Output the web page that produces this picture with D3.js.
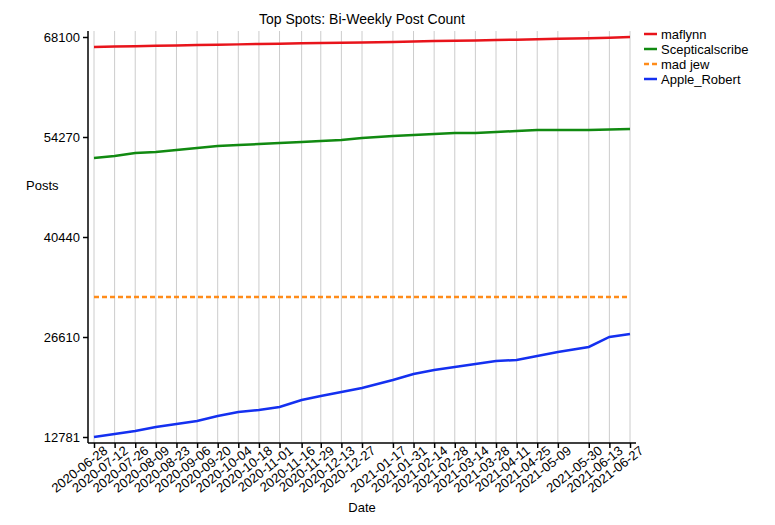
<!DOCTYPE html>
<html><head><meta charset="utf-8">
<script src="https://cdn.jsdelivr.net/npm/d3@7"></script>
<style>body{margin:0;background:#fff;font-family:"Liberation Sans",Arial,sans-serif}</style>
</head><body><svg id="c" width="775" height="525"></svg>
<script>
var dates = ["2020-06-28","2020-07-12","2020-07-26","2020-08-09","2020-08-23","2020-09-06","2020-09-20","2020-10-04","2020-10-18","2020-11-01","2020-11-16","2020-11-29","2020-12-13","2020-12-27","2021-01-17","2021-01-31","2021-02-14","2021-02-28","2021-03-14","2021-03-28","2021-04-11","2021-04-25","2021-05-09","2021-05-30","2021-06-13","2021-06-27"];
var maflynn = [66717,66780,66830,66880,66940,67000,67040,67080,67140,67180,67230,67270,67310,67350,67420,67480,67540,67580,67630,67680,67730,67780,67850,67940,68010,68100];
var sceptical = [51366,51643,52058,52196,52473,52749,53026,53164,53303,53441,53579,53717,53856,54132,54409,54547,54686,54824,54824,54962,55100,55239,55239,55239,55308,55377];
var madjew = dates.map(function(){ return 32142; });
var apple = [12781,13196,13611,14164,14579,14994,15686,16239,16516,16931,17899,18452,19005,19559,20665,21495,22048,22463,22878,23293,23431,23984,24538,25229,26612,27027];
var yTicks = [12781,26610,40440,54270,68100];
var series = [
  {name:"maflynn", values:maflynn, color:"#e8141b", dash:null},
  {name:"Scepticalscribe", values:sceptical, color:"#118a11", dash:null},
  {name:"mad jew", values:madjew, color:"#ff8c1a", dash:"5,3"},
  {name:"Apple_Robert", values:apple, color:"#1430f0", dash:null}
];

var svg = d3.select("#c");
var parse = d3.timeParse("%Y-%m-%d");
var dd = dates.map(parse);
var x = d3.scaleTime().domain(d3.extent(dd)).range([94,630]);
var y = d3.scaleLinear().domain([12781,68100]).range([437,37]);

// grid
svg.selectAll(".g").data(dd).enter().append("line")
  .attr("x1",function(d){return x(d);}).attr("x2",function(d){return x(d);})
  .attr("y1",31).attr("y2",443).attr("stroke","#cccccc").attr("stroke-width",1);

var xa = svg.append("g").attr("transform","translate(0,443)")
  .call(d3.axisBottom(x).tickValues(dd).tickFormat(d3.timeFormat("%Y-%m-%d")).tickSize(5).tickSizeOuter(0));
xa.select(".domain").attr("d","M88,0H636").attr("stroke","#000").attr("stroke-width",1.5);
xa.selectAll("text").attr("font-size",13).attr("fill","#000")
  .attr("text-anchor","end").attr("dx","0.4em").attr("dy","0.6em")
  .attr("transform","rotate(-38)");
xa.selectAll(".tick line").attr("stroke-width",1.5);

var ya = svg.append("g").attr("transform","translate(88,0)")
  .call(d3.axisLeft(y).tickValues(yTicks).tickFormat(d3.format("d")).tickSize(5).tickSizeOuter(0));
ya.select(".domain").attr("d","M0,31V443").attr("stroke","#000").attr("stroke-width",1.5);
ya.selectAll("text").attr("font-size",13).attr("fill","#000");
ya.selectAll(".tick line").attr("stroke-width",1.5);

var line = d3.line().x(function(d,i){return x(dd[i]);}).y(function(d){return y(d);});
series.forEach(function(s){
  svg.append("path").attr("d",line(s.values)).attr("fill","none")
    .attr("stroke",s.color).attr("stroke-width",2.5).attr("stroke-dasharray",s.dash);
});

svg.append("text").attr("x",362).attr("y",24).attr("text-anchor","middle").attr("font-size",14).text("Top Spots: Bi-Weekly Post Count");
svg.append("text").attr("x",362).attr("y",512).attr("text-anchor","middle").attr("font-size",13).text("Date");
svg.append("text").attr("x",26).attr("y",190).attr("font-size",13).text("Posts");

var lg = svg.selectAll(".lg").data(series).enter().append("g")
  .attr("transform",function(d,i){return "translate(644,"+(34+i*15)+")";});
lg.append("line").attr("x1",0).attr("x2",13).attr("stroke",function(d){return d.color;})
  .attr("stroke-width",2.5).attr("stroke-dasharray",function(d){return d.dash;});
lg.append("text").attr("x",17).attr("dy","0.35em").attr("font-size",13).text(function(d){return d.name;});
</script></body></html>
